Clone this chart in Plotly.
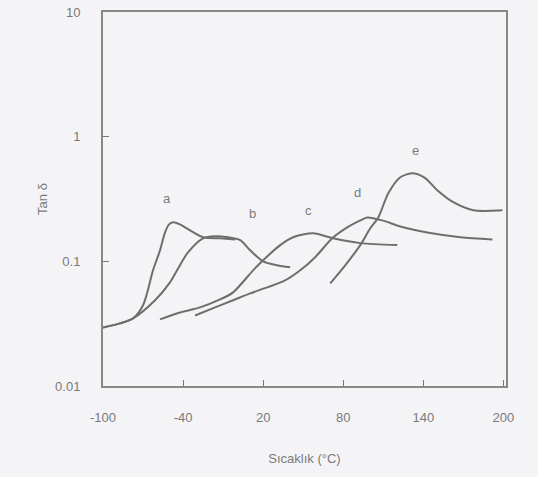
import math
import plotly.graph_objects as go

# Curve data (Temperature °C, Tan δ)
a_x = [-100, -87.3, -77.5, -70, -62.5, -57.3, -53.5, -50.5, -47.5, -42.3, -34.8, -25, -12.3, -1]
a_y = [0.0295, 0.0318, 0.0348, 0.0444, 0.0847, 0.1225, 0.171, 0.198, 0.206, 0.198, 0.177, 0.156, 0.153, 0.150]

b_x = [-100, -87.3, -77.5, -61, -49.8, -44.5, -36.3, -25, -16, -6.3, 2.8, 10.3, 20, 30.5, 40.3]
b_y = [0.0295, 0.0318, 0.0348, 0.0487, 0.0678, 0.0847, 0.118, 0.153, 0.159, 0.156, 0.148, 0.1225, 0.1, 0.0929, 0.0895]

c_x = [-57.3, -42.3, -27.3, -12.3, -2.5, 12.5, 20, 32.8, 42.5, 57.5, 72.5, 92.8, 120.5]
c_y = [0.0342, 0.0389, 0.0427, 0.0495, 0.0564, 0.0847, 0.102, 0.135, 0.156, 0.168, 0.153, 0.140, 0.135]

d_x = [-31, -16, -2.5, 10.3, 23, 36.5, 47.8, 59, 71.8, 83, 92.8, 98, 110, 122.8, 143, 167.8, 191.8]
d_y = [0.0368, 0.0427, 0.0487, 0.0553, 0.0618, 0.0703, 0.0847, 0.108, 0.153, 0.187, 0.213, 0.225, 0.212, 0.190, 0.170, 0.156, 0.150]

e_x = [70.3, 81.5, 92.8, 100.3, 106.3, 113.8, 122.8, 132.5, 141.5, 150.5, 162.5, 177.5, 199.3]
e_y = [0.0666, 0.0929, 0.135, 0.184, 0.225, 0.352, 0.473, 0.509, 0.465, 0.372, 0.298, 0.257, 0.257]

x_ticks = [-100, -40, 20, 80, 140, 200]
x_tick_text = ["-100", "-40", "20", "80", "140", "200"]
y_ticks = [0.01, 0.1, 1, 10]
y_tick_text = ["0.01", "0.1", "1", "10"]

labels = ["a", "b", "c", "d", "e"]
label_x = [-52, 11.8, 53.8, 91, 134]
label_y = [0.32, 0.243, 0.257, 0.358, 0.78]

line_color = "#6e6e6e"
text_color = "#7a7a7a"

fig = go.Figure()
for xs, ys in [(a_x, a_y), (b_x, b_y), (c_x, c_y), (d_x, d_y), (e_x, e_y)]:
    fig.add_trace(go.Scatter(x=xs, y=ys, mode="lines",
                             line=dict(color=line_color, width=2, shape="spline", smoothing=0.8),
                             showlegend=False, hoverinfo="skip"))

for t, lx, ly in zip(labels, label_x, label_y):
    fig.add_annotation(x=lx, y=math.log10(ly), text=t, showarrow=False,
                       font=dict(size=13, color=text_color, family="Liberation Sans"))

fig.update_layout(
    width=538, height=477,
    margin=dict(l=103, r=32, t=12, b=91, autoexpand=False),
    paper_bgcolor="#f4f4f7",
    plot_bgcolor="#f4f4f7",
    font=dict(family="Liberation Sans", size=13, color=text_color),
    xaxis=dict(range=[-100, 202], tickvals=x_ticks, ticktext=x_tick_text,
               ticks="inside", ticklen=6, ticklabelstandoff=18, automargin=False,
               ticklabeloverflow="allow",
               tickcolor="#777777", showgrid=False, zeroline=False,
               showline=True, linecolor="#888888", linewidth=2, mirror=True,
               title=dict(text="Sıcaklık (°C)", standoff=30, font=dict(size=13, color=text_color)),
               tickfont=dict(size=13, color=text_color)),
    yaxis=dict(type="log", range=[-2, 1], tickvals=y_ticks, ticktext=y_tick_text,
               ticks="inside", ticklen=6, ticklabelstandoff=18, automargin=False,
               ticklabeloverflow="allow",
               tickcolor="#777777", showgrid=False, zeroline=False,
               showline=True, linecolor="#888888", linewidth=2, mirror=True,
               title=dict(text="Tan δ", standoff=5, font=dict(size=13, color=text_color)),
               tickfont=dict(size=13, color=text_color)),
)

fig.write_html("out.html", config={"displayModeBar": False},
               post_script="document.body.style.margin='0px';")
